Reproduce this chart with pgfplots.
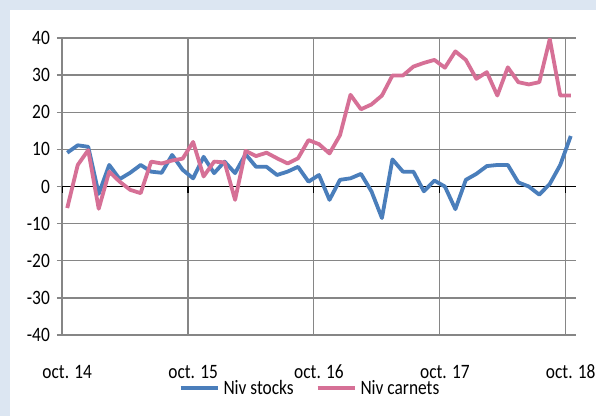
\documentclass[border=0pt]{standalone}
\usepackage{fontspec}
\setmainfont{Carlito}
\usepackage{graphicx}
\usepackage{pgfplots}
\pgfplotsset{compat=1.18}

\definecolor{bgblue}{RGB}{220,230,242}
\definecolor{stockblue}{RGB}{74,126,187}
\definecolor{carnetpink}{RGB}{214,112,150}
\definecolor{gridgray}{RGB}{134,134,134}

% text in the reference is narrow and tall
\newcommand\tx[1]{\scalebox{0.85}[1]{#1}}

% monthly values, oct. 14 (0) to oct. 18 (48)
\pgfplotstableread{
i stocks carnets
0 9.1 -5.8
1 11.1 5.8
2 10.7 9.8
3 -2.0 -6.0
4 5.8 4.0
5 2.0 1.3
6 3.7 -0.9
7 5.8 -1.8
8 4.0 6.7
9 3.7 6.2
10 8.5 7.0
11 4.5 7.5
12 2.2 12.0
13 8.0 2.7
14 3.6 6.7
15 6.7 6.5
16 3.6 -3.6
17 8.7 9.6
18 5.3 8.2
19 5.3 9.1
20 3.1 7.6
21 4.0 6.2
22 5.3 7.6
23 1.3 12.5
24 3.1 11.4
25 -3.6 8.9
26 1.8 13.8
27 2.2 24.7
28 3.4 20.8
29 -1.3 22.1
30 -8.5 24.5
31 7.3 29.9
32 4.0 29.9
33 4.0 32.3
34 -1.3 33.3
35 1.6 34.1
36 0.0 32.0
37 -6.1 36.4
38 1.8 34.1
39 3.4 29.0
40 5.5 30.8
41 5.8 24.5
42 5.8 32.1
43 1.1 28.1
44 0.0 27.5
45 -2.2 28.1
46 0.7 39.7
47 5.8 24.5
48 13.6 24.5
}\data

\begin{document}
\begin{tikzpicture}[font=\fontsize{20.5}{23}\selectfont]
\fill[bgblue] (0,0) rectangle (596bp,416bp);
\fill[white] (10bp,0) rectangle (596bp,406bp);
\path[use as bounding box] (0,0) rectangle (596bp,416bp);
\begin{axis}[
  at={(62bp,81bp)}, anchor=south west,
  scale only axis, width=514bp, height=297bp,
  xmin=-0.5, xmax=48.5, ymin=-40, ymax=40,
  axis x line*=bottom, axis y line*=left,
  x axis line style={draw=none},
  y axis line style={gridgray, line width=1.3bp},
  ytick={-40,-30,...,40},
  yticklabel={\tx{\pgfmathprintnumber{\tick}}},
  ymajorgrids, major grid style={gridgray, line width=1.3bp},
  xtick={0,12,24,36,48},
  xticklabels={\tx{oct. 14},\tx{oct. 15},\tx{oct. 16},\tx{oct. 17},\tx{oct. 18}},
  xtick style={draw=none},
  minor xtick={-0.5,11.5,23.5,35.5,47.5},
  xminorgrids, minor grid style={gridgray, line width=1.3bp},
  minor x tick style={draw=none},
  ytick style={gridgray, line width=1.3bp},
  tick align=outside, major tick length=5bp,
  tick label style={font=\fontsize{20.5}{23}\selectfont},
  yticklabel style={anchor=east, inner sep=0pt, xshift=-7bp},
  xticklabel style={anchor=base, inner sep=0pt, yshift=-38bp},
  /pgf/number format/assume math mode=true,
  legend style={at={(0.4825,-0.178)}, anchor=center, draw=none, fill=none,
    inner sep=0pt, legend cell align=left,
    font=\fontsize{20.5}{23}\selectfont,
    /tikz/every odd column/.append style={column sep=2bp},
    /tikz/every even column/.append style={column sep=20bp}},
  legend columns=2,
  legend image code/.code={\draw[#1] (0bp,0bp) -- (37bp,0bp);},
]
\draw[black, line width=1.5bp] (axis cs:-0.5,0) -- (axis cs:48.5,0);
\pgfplotsinvokeforeach{-0.5,11.5,23.5,35.5,47.5}{
  \draw[black, line width=1.3bp] (axis cs:#1,0) -- ([yshift=-6bp]axis cs:#1,0);
}
\addplot[stockblue, line width=3.8bp, line join=round] table[x=i, y=stocks] {\data};
\addlegendentry{\tx{Niv stocks}}
\addplot[carnetpink, line width=3.8bp, line join=round] table[x=i, y=carnets] {\data};
\addlegendentry{\tx{Niv carnets}}
\end{axis}
\end{tikzpicture}
\end{document}
